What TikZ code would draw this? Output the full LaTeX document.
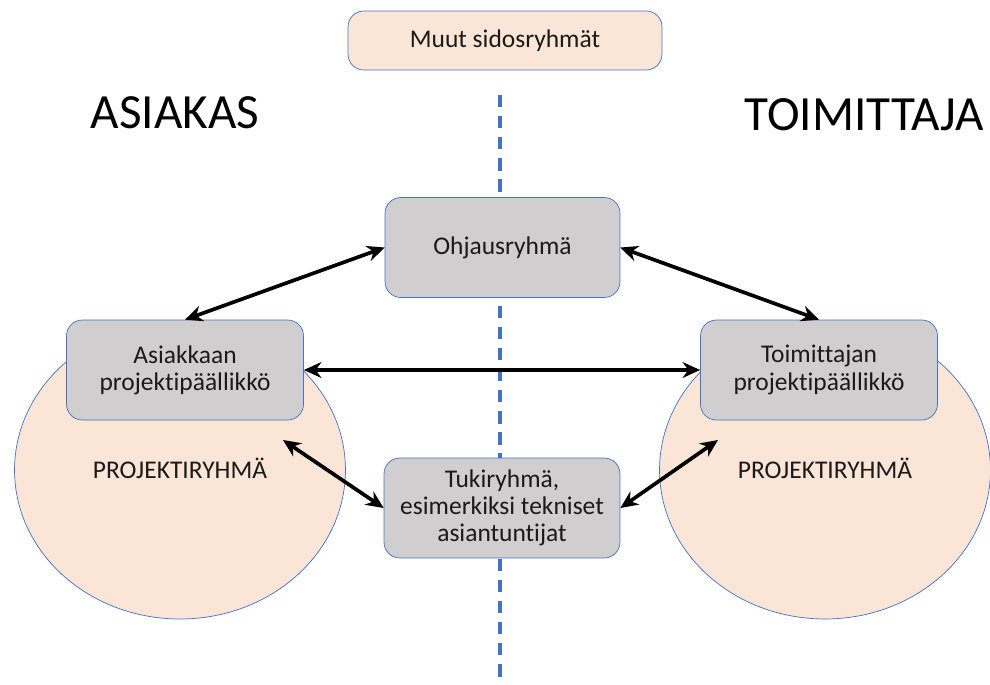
\documentclass[tikz,border=0pt]{standalone}
\usepackage{fontspec}
\setmainfont{Carlito}[Ligatures={NoCommon}]
\usetikzlibrary{arrows.meta}
\definecolor{peach}{HTML}{FBE5D6}
\definecolor{boxgray}{HTML}{D0CECE}
\definecolor{edgeblue}{HTML}{4472C4}
\definecolor{ink}{HTML}{1A1A1A}
\tikzset{
	group/.style = {draw=edgeblue, fill=boxgray, rounded corners=9pt, align=center, text=ink,
		minimum width=4.74cm, minimum height=2cm, font=\fontsize{14.5}{15.5}\selectfont},
	team/.style = {draw=edgeblue, fill=peach},
	link/.style = {{Stealth[length=10pt, width=9pt]}-{Stealth[length=10pt, width=9pt]}, line width=2.1pt},
	side/.style = {font=\fontsize{28}{30}\selectfont},
}
\begin{document}
\begin{tikzpicture}[x=0.02cm, y=-0.02cm]
	\useasboundingbox (0,0) rectangle (990,684);
	% ====== Teams ========
	\fill[team] (180,470) ellipse [x radius=3.31cm, y radius=2.98cm];
	\fill[team] (825,470) ellipse [x radius=3.31cm, y radius=2.98cm];
	\node[font=\fontsize{14.5}{15.5}\selectfont, text=ink] (pr1) at (180,468) {PROJEKTIRYHMÄ};
	\node[font=\fontsize{14.5}{15.5}\selectfont, text=ink] (pr2) at (825,468) {PROJEKTIRYHMÄ};
	% ====== Divider ========
	\coordinate (D1) at (500,95);
	\coordinate (D2) at (500,684);
	\draw[edgeblue, line width=2pt, dash pattern=on 7pt off 5pt] (D1) -- (D2);
	\node[side] (asiakas) at (175,113) {ASIAKAS};
	\node[side] (toimittaja) at (864,115) {TOIMITTAJA};
	% ====== Groups ========
	\node[group, fill=peach, minimum width=6.28cm, minimum height=1.18cm] (muut) at (505,40.5) {Muut sidosryhmät};
	\node[group, minimum width=4.7cm] (ohjaus) at (502.5,247.5) {Ohjausryhmä};
	\node[group] (apm) at (185,370) {Asiakkaan\\projektipäällikkö};
	\node[group] (tpm) at (819,370) {Toimittajan\\projektipäällikkö};
	\node[group, minimum width=4.72cm] (tuki) at (502,508) {Tukiryhmä,\\esimerkiksi tekniset\\asiantuntijat};
	% ====== Links ========
	\coordinate (A) at (283,440);
	\coordinate (B) at (718,440);
	\draw[link] (ohjaus.west) -- (apm.north);
	\draw[link] (ohjaus.east) -- (tpm.north);
	\draw[link] (apm.east) -- (tpm.west);
	\draw[link] (A) -- (tuki.west);
	\draw[link] (B) -- (tuki.east);
\end{tikzpicture}
\end{document}
